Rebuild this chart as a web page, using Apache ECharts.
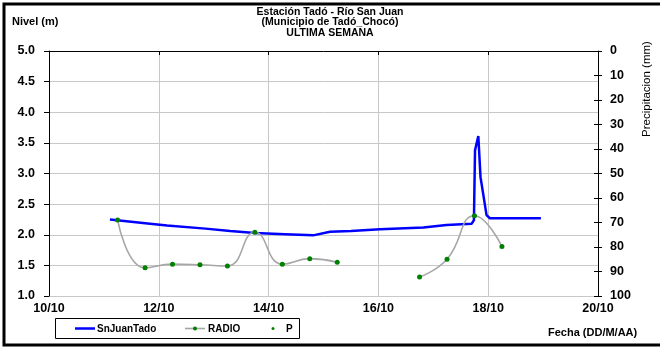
<!DOCTYPE html>
<html>
<head>
<meta charset="utf-8">
<script src="https://cdn.jsdelivr.net/npm/echarts@6/dist/echarts.min.js"></script>
<style>
html,body{margin:0;padding:0;background:#fff;}
#chart{width:660px;height:347px;}
</style>
</head>
<body>
<div id="chart"></div>
<script>
// ---- data ----
const xTickLabels = ['10/10','12/10','14/10','16/10','18/10','20/10'];
const levelDays = [11.11, 11.84, 12.15, 12.85, 13.30, 13.75, 14.30, 14.81, 15.12, 15.50, 16.03, 16.82, 17.24, 17.70, 17.74, 17.76, 17.82, 17.86, 17.97, 18.03, 18.96];
const levelValues = [2.25, 2.18, 2.15, 2.10, 2.06, 2.03, 2.01, 1.99, 2.05, 2.06, 2.09, 2.12, 2.16, 2.18, 2.24, 3.38, 3.61, 2.94, 2.32, 2.27, 2.27];
const radioDays = [11.25, 11.75, 12.25, 12.75, 13.25, 13.75, 14.25, 14.75, 15.25, 15.75, 16.25, 16.75, 17.25, 17.75, 18.25];
const radioValues = [2.24, 1.46, 1.52, 1.51, 1.49, 2.04, 1.52, 1.61, 1.55, null, null, 1.31, 1.60, 2.31, 1.81];
const pDays = [];
const pValues = [];
const titleLines = ['Estación Tadó - Río San Juan', '(Municipio de Tadó_Chocó)', 'ULTIMA SEMANA'];

const FONT = '"Liberation Sans", Arial, sans-serif';
const chart = echarts.init(document.getElementById('chart'), null, {renderer:'canvas'});

const pair = (xs, ys) => xs.map((x, i) => [x, ys[i]]);
const TICK_FS = 12.5;

const titleGraphics = titleLines.map((t, i) => ({
  type: 'text', x: 330, y: 12 + i * 10.5,
  style: {text: t, fontFamily: FONT, fontSize: 10.5, fontWeight: 'bold', fill: '#000', align: 'center', verticalAlign: 'middle'}
}));

chart.setOption({
  animation: false,
  backgroundColor: '#fff',
  grid: {left: 49, right: 62, top: 51, bottom: 51, containLabel: false},
  xAxis: {
    type: 'value', min: 10, max: 20, interval: 2,
    axisLine: {show: true, lineStyle: {color: '#000', width: 1}},
    axisTick: {show: true, length: 4, lineStyle: {color: '#000'}},
    splitLine: {show: true, lineStyle: {color: '#c8c8c8', width: 1}},
    axisLabel: {
      fontFamily: FONT, fontSize: TICK_FS, fontWeight: 'bold', color: '#000', margin: 6,
      formatter: v => xTickLabels[Math.round((v - 10) / 2)]
    }
  },
  yAxis: [
    {
      type: 'value', min: 1, max: 5, interval: 0.5, position: 'left',
      axisLine: {show: true, lineStyle: {color: '#000'}},
      axisTick: {show: true, length: 5, lineStyle: {color: '#000'}},
      splitLine: {show: true, lineStyle: {color: '#c8c8c8', width: 1}},
      axisLabel: {fontFamily: FONT, fontSize: TICK_FS, fontWeight: 'bold', color: '#000', margin: 14,
        formatter: v => v.toFixed(1)}
    },
    {
      type: 'value', min: 0, max: 100, interval: 10, inverse: true, position: 'right',
      axisLine: {show: true, lineStyle: {color: '#000'}},
      axisTick: {show: true, length: 4, lineStyle: {color: '#000'}},
      splitLine: {show: false},
      axisLabel: {fontFamily: FONT, fontSize: TICK_FS, fontWeight: 'bold', color: '#000', margin: 12}
    },
    {
      type: 'value', min: 0, max: 100, interval: 10, inverse: true, position: 'right',
      axisLine: {show: false},
      axisTick: {show: true, inside: true, length: 4, lineStyle: {color: '#000'}},
      splitLine: {show: false},
      axisLabel: {show: false}
    }
  ],
  series: [
    {
      name: 'SnJuanTado', type: 'line', yAxisIndex: 0,
      data: pair(levelDays, levelValues),
      showSymbol: false, symbol: 'none',
      lineStyle: {color: '#0000ff', width: 2.5},
      itemStyle: {color: '#0000ff'},
      z: 3
    },
    {
      name: 'RADIO', type: 'line', yAxisIndex: 0,
      data: pair(radioDays, radioValues),
      smooth: 0.5, connectNulls: false,
      symbol: 'circle', symbolSize: 5, showSymbol: true,
      lineStyle: {color: '#a6a6a6', width: 1.6},
      itemStyle: {color: '#008000', borderWidth: 0},
      z: 4
    },
    {
      name: 'P', type: 'scatter', yAxisIndex: 1,
      data: pair(pDays, pValues),
      symbol: 'circle', symbolSize: 4,
      itemStyle: {color: '#008000'}
    }
  ],
  graphic: titleGraphics.concat([
    {type: 'rect', shape: {x: 4, y: 4, width: 700, height: 341}, style: {fill: 'none', stroke: '#000', lineWidth: 3}, silent: true},
    {type: 'text', x: 12, y: 22, style: {text: 'Nivel (m)', fontFamily: FONT, fontSize: 11, fontWeight: 'bold', fill: '#000', verticalAlign: 'middle'}},
    {type: 'text', x: 647, y: 89, rotation: Math.PI / 2,
      style: {text: 'Precipitacion (mm)', fontFamily: FONT, fontSize: 11.5, fill: '#000', align: 'center', verticalAlign: 'middle'}},
    {type: 'text', x: 548, y: 333, style: {text: 'Fecha (DD/M/AA)', fontFamily: FONT, fontSize: 11, fontWeight: 'bold', fill: '#000', verticalAlign: 'middle'}},
    // legend box
    {type: 'rect', shape: {x: 55.5, y: 318.5, width: 244, height: 20}, style: {fill: '#fff', stroke: '#000', lineWidth: 1}},
    {type: 'line', shape: {x1: 75, y1: 328.5, x2: 95, y2: 328.5}, style: {stroke: '#0000ff', lineWidth: 2.5}},
    {type: 'text', x: 97, y: 329, style: {text: 'SnJuanTado', fontFamily: FONT, fontSize: 10, fontWeight: 'bold', fill: '#000', verticalAlign: 'middle'}},
    {type: 'line', shape: {x1: 185, y1: 328.5, x2: 205, y2: 328.5}, style: {stroke: '#a6a6a6', lineWidth: 1.6}},
    {type: 'circle', shape: {cx: 195, cy: 328.5, r: 2}, style: {fill: '#008000'}},
    {type: 'text', x: 208, y: 329, style: {text: 'RADIO', fontFamily: FONT, fontSize: 10, fontWeight: 'bold', fill: '#000', verticalAlign: 'middle'}},
    {type: 'circle', shape: {cx: 273, cy: 328.5, r: 1.5}, style: {fill: '#008000'}},
    {type: 'text', x: 286, y: 329, style: {text: 'P', fontFamily: FONT, fontSize: 10, fontWeight: 'bold', fill: '#000', verticalAlign: 'middle'}}
  ])
});
</script>
</body>
</html>
